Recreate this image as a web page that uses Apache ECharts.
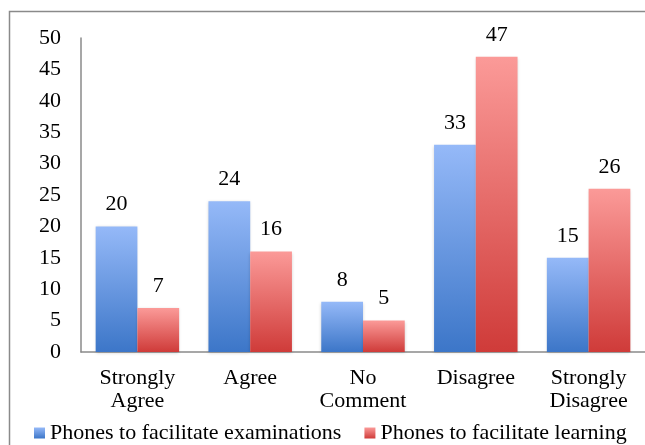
<!DOCTYPE html>
<html><head><meta charset="utf-8">
<script src="https://cdn.jsdelivr.net/npm/echarts@6/dist/echarts.min.js"></script>
<style>html,body{margin:0;padding:0;background:#fff}#c{width:645px;height:445px}</style>
</head><body><div id="c"></div>
<script>
const categories = ['Strongly\nAgree', 'Agree', 'No\nComment', 'Disagree', 'Strongly\nDisagree'];
const examValues = [20, 24, 8, 33, 15];
const learnValues = [7, 16, 5, 47, 26];
const seriesNames = ['Phones to facilitate examinations', 'Phones to facilitate learning'];
const yTicks = { min: 0, max: 50, interval: 5 };

const FONT = 'Liberation Serif';
const FS = 22;
const blueGrad = new echarts.graphic.LinearGradient(0, 0, 0, 1, [
  { offset: 0, color: '#95b9f8' }, { offset: 1, color: '#3c76c8' }]);
const redGrad = new echarts.graphic.LinearGradient(0, 0, 0, 1, [
  { offset: 0, color: '#fb9a98' }, { offset: 1, color: '#cf3b39' }]);

const chart = echarts.init(document.getElementById('c'));
const labelStyle = { show: true, position: 'top', distance: 11, color: '#000', fontFamily: FONT, fontSize: FS };
const shadow = { shadowBlur: 3, shadowColor: 'rgba(0,0,0,0.18)', shadowOffsetY: 1 };
chart.setOption({
  animation: false,
  graphic: [{ type: 'rect', shape: { x: 9.5, y: 11.5, width: 700, height: 500 },
    style: { fill: 'none', stroke: '#8a8a8a', lineWidth: 1.5 }, silent: true }],
  grid: { left: 81, right: 0, top: 38, bottom: 93 },
  legend: {
    top: 417, left: 29, itemGap: 23, itemWidth: 11, itemHeight: 11,
    icon: 'rect',
    textStyle: { fontFamily: FONT, fontSize: FS, color: '#000' },
    data: seriesNames
  },
  xAxis: {
    type: 'category', data: categories,
    axisLine: { lineStyle: { color: '#8a8a8a', width: 1.5 } },
    axisTick: { show: false },
    axisLabel: { color: '#000', fontFamily: FONT, fontSize: FS, margin: 15, lineHeight: 23, interval: 0 }
  },
  yAxis: {
    type: 'value', min: yTicks.min, max: yTicks.max, interval: yTicks.interval,
    axisLine: { show: true, lineStyle: { color: '#8a8a8a', width: 1.5 } },
    axisTick: { show: false },
    splitLine: { show: false },
    axisLabel: { color: '#000', fontFamily: FONT, fontSize: FS, margin: 20 }
  },
  series: [
    { name: seriesNames[0], type: 'bar', data: examValues, barGap: '0%', barCategoryGap: '26%',
      itemStyle: Object.assign({ color: blueGrad }, shadow), label: labelStyle },
    { name: seriesNames[1], type: 'bar', data: learnValues, barGap: '0%', barCategoryGap: '26%',
      itemStyle: Object.assign({ color: redGrad }, shadow), label: labelStyle }
  ]
});
</script></body></html>
